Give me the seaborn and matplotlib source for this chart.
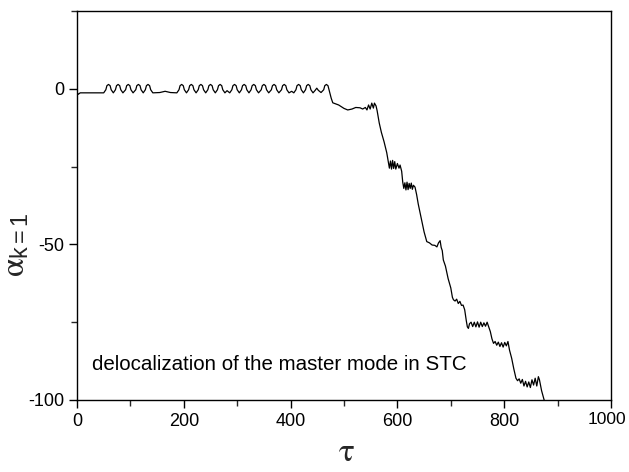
import matplotlib
matplotlib.use("Agg")
import matplotlib.pyplot as plt
import matplotlib.transforms as mtransforms
import seaborn as sns
import pandas as pd
from matplotlib.ticker import MultipleLocator

tau = [0, 2, 6, 50,
       54, 56, 59, 62, 64, 68,
       72, 74, 77, 80, 82, 86,
       91, 93, 96, 99, 101, 105,
       110, 112, 115, 118, 120, 124,
       128, 130, 133, 136, 138, 142,
       155, 165, 175, 187,
       191, 193, 196, 199, 201, 205,
       209, 211, 214, 217, 219, 223,
       227, 229, 232, 235, 237, 241,
       245, 247, 250, 253, 255, 259,
       263, 265, 268, 271, 273, 277,
       281, 286,
       290, 292, 295, 298, 300, 304,
       308, 310, 313, 316, 318, 322,
       326, 328, 331, 334, 336, 340,
       345, 347, 350, 353, 355, 359,
       364, 366, 369, 372, 374, 378,
       383, 385, 388, 391, 393, 397,
       402, 406,
       410, 412, 415, 418, 420, 424,
       428, 430, 433, 436, 438, 442,
       446, 449, 452, 457,
       462, 464, 467, 470, 472, 476, 479,
       490, 500, 507, 515, 522, 530, 535, 540, 543, 546, 549, 552, 555, 557, 560, 562,
       566, 570, 575, 580, 583,
       585, 587, 589, 591, 593, 595, 597, 600, 603, 605, 608,
       610, 612,
       614, 616, 618, 620, 622, 624, 626, 628, 630, 633, 636,
       639, 642, 645, 650, 655,
       660, 665, 670, 674, 677, 680, 682, 684,
       686, 690, 695, 700, 703, 705,
       708, 711, 714, 717, 720, 723,
       726, 729, 731, 733,
       735, 738, 741, 744, 747, 750, 753, 756, 759, 762, 765, 768, 771,
       774, 777, 780,
       783, 786, 789, 792, 795, 798, 801, 804, 807, 810,
       814, 818, 822,
       825, 828, 831, 834, 837, 840, 843, 846, 849, 852, 855, 858, 861, 864, 866,
       870, 874, 878]

alpha = [-1.0, -1.8, -1.3, -1.3,
         -0.3, 1.0, 1.4, 1.0, -0.3, -1.3,
         -0.3, 1.0, 1.4, 1.0, -0.3, -1.3,
         -0.3, 1.0, 1.4, 1.0, -0.3, -1.3,
         -0.3, 1.0, 1.4, 1.0, -0.3, -1.3,
         -0.3, 1.0, 1.4, 1.0, -0.3, -1.3,
         -1.2, -0.8, -1.2, -1.3,
         -0.3, 1.0, 1.4, 1.0, -0.3, -1.3,
         -0.3, 1.0, 1.4, 1.0, -0.3, -1.3,
         -0.3, 1.0, 1.4, 1.0, -0.3, -1.3,
         -0.3, 1.0, 1.4, 1.0, -0.3, -1.3,
         -0.3, 1.0, 1.4, 1.0, -0.3, -1.3,
         -0.6, -1.3,
         -0.3, 1.0, 1.4, 1.0, -0.3, -1.3,
         -0.3, 1.0, 1.4, 1.0, -0.3, -1.3,
         -0.3, 1.0, 1.4, 1.0, -0.3, -1.3,
         -0.3, 1.0, 1.4, 1.0, -0.3, -1.3,
         -0.3, 1.0, 1.4, 1.0, -0.3, -1.3,
         -0.3, 1.0, 1.4, 1.0, -0.3, -1.3,
         -0.8, -1.3,
         -0.3, 1.0, 1.4, 1.0, -0.3, -1.3,
         -0.3, 1.0, 1.4, 1.0, -0.3, -1.3,
         -0.5, 0.2, -0.5, -1.2,
         -0.3, 1.0, 1.4, 1.0, -0.3, -3.0, -4.5,
         -5.2, -6.3, -6.8, -6.5, -6.0, -6.1, -6.5, -6.0, -6.8, -5.2, -6.5, -4.6, -6.2, -4.6, -5.5, -7.0,
         -11.0, -14.0, -17.0, -20.5, -23.5,
         -25.5, -23.2, -25.8, -23.0, -25.6, -23.4, -25.8, -24.0, -25.5, -24.5, -26.5,
         -30.0, -32.0,
         -30.2, -32.5, -30.0, -32.4, -30.4, -32.0, -30.3, -32.3, -31.0, -31.6, -34.0,
         -37.0, -39.5, -42.0, -46.0, -49.1,
         -49.5, -50.2, -50.3, -50.8, -49.5, -48.8, -51.0, -52.0,
         -55.0, -57.0, -61.0, -64.0, -67.0, -67.8,
         -68.2, -67.6, -69.0, -68.3, -69.6, -69.5,
         -71.0, -74.5, -76.5, -77.0,
         -75.5, -75.0, -76.4, -75.0, -76.5, -74.9, -76.6, -75.0, -76.4, -75.2, -76.3, -75.0, -76.5,
         -78.0, -80.3, -81.8,
         -81.2, -82.4, -81.4, -82.8, -81.6, -83.0, -81.5, -82.6, -81.2, -84.0,
         -86.6, -90.0, -93.0,
         -93.8, -93.2, -94.6, -93.4, -95.5, -94.0, -95.8, -94.2, -96.0, -93.5, -95.2, -93.0, -95.5, -92.5, -93.5,
         -97.0, -99.5, -102.0]

x_ticks = [0, 200, 400, 600, 800, 1000]
y_ticks = [-100, -50, 0]
annotation = "delocalization of the master mode in STC"

sns.set_theme(style="ticks")
plt.rcParams['font.family'] = ['Liberation Sans', 'DejaVu Sans']
plt.rcParams['mathtext.fontset'] = 'stix'
plt.rcParams['axes.unicode_minus'] = False

df = pd.DataFrame({"tau": tau, "alpha": alpha})

fig = plt.figure(figsize=(6.29, 4.72), dpi=100)
ax = fig.add_axes([77/629, 1 - 400/472, (611 - 77)/629, (400 - 11)/472])
sns.lineplot(data=df, x="tau", y="alpha", ax=ax, color="black", linewidth=0.9,
             estimator=None, sort=False)

ax.set_xlim(0, 1000)
ax.set_ylim(-100, 25)
ax.set_xticks(x_ticks)
ax.set_yticks(y_ticks)
ax.xaxis.set_minor_locator(MultipleLocator(100))
ax.yaxis.set_minor_locator(MultipleLocator(25))
ax.tick_params(which='major', direction='out', length=6, width=1.0, labelsize=13,
               colors='black', pad=3)
ax.tick_params(which='minor', direction='out', length=4, width=1.0)
for s in ax.spines.values():
    s.set_linewidth(1.0)
    s.set_color('black')

# keep the last x tick label inside the canvas
last = ax.xaxis.get_major_ticks()[-1].label1
last.set_fontsize(12.5)
last.set_transform(last.get_transform() +
                   mtransforms.ScaledTranslation(-4/100, 0, fig.dpi_scale_trans))

ax.set_xlabel(r"$\mathrm{\tau}$", fontsize=24)
ax.xaxis.set_label_coords(0.504, -0.095)
ax.set_ylabel(r"$\mathrm{\alpha}_{\mathregular{k=1}}$", fontsize=24)
ax.yaxis.set_label_coords(-0.085, 0.40)

ax.text(28, -88.5, annotation, fontsize=14.8, va='center', ha='left', color='black')

fig.savefig("out.png", dpi=100)
